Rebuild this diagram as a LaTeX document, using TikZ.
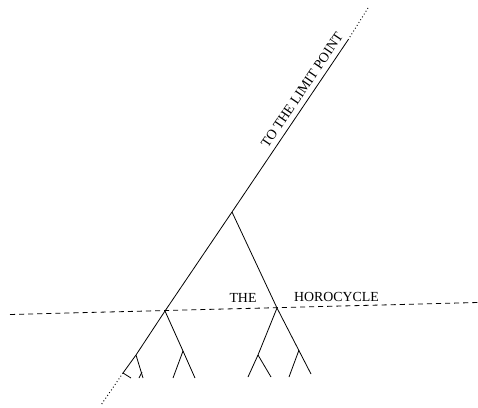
\documentclass[tikz,border=0pt]{standalone}
\usepackage{fontspec}
\setmainfont{Liberation Serif}
\begin{document}
\begin{tikzpicture}[x=0.75pt,y=-0.75pt,
  edge/.style={line width=0.6pt},
  dotline/.style={line width=0.7pt,dash pattern=on 0.7pt off 1.8pt},
  horo/.style={line width=0.6pt,dash pattern=on 3.8pt off 3pt},
  lbl/.style={font=\fontsize{10.4}{12}\selectfont,inner sep=0pt}]
\useasboundingbox (0,0) rectangle (478,407);
% vertices
\coordinate (T0) at (368,8);
\coordinate (T1) at (348,40);
\coordinate (R) at (232,212);
\coordinate (L) at (165,311);
\coordinate (M) at (136,355);
\coordinate (B1) at (123,373);
\coordinate (B0) at (101,405);
\coordinate (Bs) at (131,378);
\coordinate (MB) at (143,378);
\coordinate (Ms) at (142,372);
\coordinate (MBs) at (139,378);
\coordinate (L2) at (183,351);
\coordinate (L2a) at (173,378);
\coordinate (L2b) at (195,378);
\coordinate (H) at (277,308);
\coordinate (Hr) at (311,374);
\coordinate (H1) at (258,355);
\coordinate (H1a) at (248,377);
\coordinate (H1b) at (271,377);
\coordinate (H2) at (299,350);
\coordinate (H2a) at (289,377);
\coordinate (D0) at (10,314.5);
\coordinate (D1) at (478,302.5);
% geodesic to limit point
\draw[dotline] (T0) -- (T1);
\draw[edge] (T1) -- (R) -- (L) -- (M) -- (B1);
\draw[dotline] (B1) -- (B0);
\draw[edge] (B1) -- (Bs);
\draw[edge] (M) -- (MB);
\draw[edge] (Ms) -- (MBs);
\draw[edge] (L) -- (L2) -- (L2b);
\draw[edge] (L2) -- (L2a);
\draw[edge] (R) -- (H) -- (Hr);
\draw[edge] (H) -- (H1) -- (H1a);
\draw[edge] (H1) -- (H1b);
\draw[edge] (H2) -- (H2a);
% horocycle
\draw[horo] (D0) -- (D1);
% labels
\node[lbl,anchor=base] (the) at (243,302) {THE};
\node[lbl,anchor=base] (horo) at (336.5,301.5) {HOROCYCLE};
\node[lbl,rotate=55.95] (lim) at (302,90) {TO THE LIMIT POINT};
\end{tikzpicture}
\end{document}
